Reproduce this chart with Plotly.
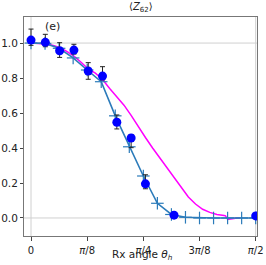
import math
import plotly.graph_objects as go

# Experimental data
exp_theta = [0.0, 0.1, 0.2, 0.3, 0.4, 0.5, 0.6, 0.7, 0.8, 1.0, math.pi / 2]
exp_val = [1.017, 1.004, 0.956, 0.960, 0.840, 0.811, 0.547, 0.457, 0.195, 0.016, 0.012]
exp_err_up = [0.063, 0.046, 0.046, 0.033, 0.048, 0.054, 0.042, 0.020, 0.052, 0.012, 0.010]
exp_err_dn = [0.030, 0.025, 0.038, 0.023, 0.047, 0.022, 0.038, 0.055, 0.028, 0.012, 0.010]

# Simulation (blue line with + markers), at k*pi/32
sim_k = list(range(17))
sim_val = [1.0, 0.998, 0.970, 0.915, 0.846, 0.779, 0.584, 0.407, 0.240, 0.084,
           0.020, 0.004, 0.0, 0.0, 0.0, 0.0, 0.0]

# Second model (magenta)
mag_theta = [0.0, 0.05, 0.1, 0.15, 0.2, 0.25, 0.3, 0.35, 0.4, 0.45, 0.5, 0.55, 0.6,
             0.65, 0.7, 0.75, 0.8, 0.85, 0.9, 0.95, 1.0, 1.05, 1.1, 1.15, 1.2, 1.25,
             1.3, 1.35, 1.36, 1.375, 1.4, 1.43, 1.46]
mag_val = [1.0, 0.999, 0.995, 0.987, 0.975, 0.952, 0.925, 0.89, 0.852, 0.828, 0.792,
           0.74, 0.69, 0.645, 0.587, 0.52, 0.46, 0.40, 0.345, 0.29, 0.235, 0.175,
           0.12, 0.08, 0.05, 0.032, 0.02, 0.014, 0.012, -0.008, -0.007, -0.002, 0.0]

tick_vals = [0, math.pi / 8, math.pi / 4, 3 * math.pi / 8, math.pi / 2]
tick_text = ["0", "<i>π</i>/8", "<i>π</i>/4", "3<i>π</i>/8", "<i>π</i>/2"]
y_ticks = [0.0, 0.2, 0.4, 0.6, 0.8, 1.0]
y_text = ["0.0", "0.2", "0.4", "0.6", "0.8", "1.0"]

sim_theta = [k * math.pi / 32 for k in sim_k]

fig = go.Figure()
fig.add_trace(go.Scatter(
    x=mag_theta, y=mag_val, mode="lines",
    line=dict(color="#ff00ff", width=1.5), showlegend=False))
fig.add_trace(go.Scatter(
    x=sim_theta, y=sim_val, mode="lines+markers",
    line=dict(color="#2b7bba", width=1.6),
    marker=dict(symbol="line-ns", size=9, line=dict(color="#2b7bba", width=1.2)),
    showlegend=False))
fig.add_trace(go.Scatter(
    x=sim_theta, y=sim_val, mode="markers",
    marker=dict(symbol="line-ew", size=9, line=dict(color="#2b7bba", width=1.2)),
    showlegend=False))
fig.add_trace(go.Scatter(
    x=exp_theta, y=exp_val, mode="markers",
    marker=dict(color="#0000ff", size=9),
    error_y=dict(type="data", array=exp_err_up, arrayminus=exp_err_dn,
                 color="#222222", thickness=1, width=2.5),
    showlegend=False))

# reference lines
for xv in [0, math.pi / 2]:
    fig.add_shape(type="line", xref="x", yref="paper", x0=xv, x1=xv, y0=0, y1=1,
                  line=dict(color="#d0d0d0", width=1), layer="below")
for yv in [0, 1]:
    fig.add_shape(type="line", xref="paper", yref="y", x0=0, x1=1, y0=yv, y1=yv,
                  line=dict(color="#d0d0d0", width=1), layer="below")

fig.add_annotation(x=0.122, y=0.955, xref="paper", yref="paper", text="(e)",
                   xanchor="center", yanchor="middle",
                   showarrow=False, font=dict(size=11, color="#222"))
fig.add_annotation(x=0.51, y=-0.128, xref="paper", yref="paper",
                   text="Rx angle <i>θ</i><sub><i>h</i></sub>",
                   xanchor="center", yanchor="bottom",
                   showarrow=False, font=dict(size=10.5, color="#222"))
fig.add_annotation(x=0.5, y=1.0, xref="paper", yref="paper",
                   text="⟨<i>Z</i><sub>62</sub>⟩", yshift=1,
                   xanchor="center", yanchor="bottom",
                   showarrow=False, font=dict(size=10, color="#222"))

fig.update_layout(
    width=266, height=265,
    margin=dict(l=24, r=9, t=17, b=29),
    paper_bgcolor="white", plot_bgcolor="white",
    font=dict(family="DejaVu Sans", size=10, color="#222"),
    xaxis=dict(range=[-0.049, 1.580], tickvals=tick_vals, ticktext=tick_text,
               showgrid=False, zeroline=False, showline=True, mirror=True,
               linecolor="#777", linewidth=1, ticks="outside", ticklen=4,
               tickcolor="#444", automargin=False, tickfont=dict(size=10),
               ticklabelstandoff=1),
    yaxis=dict(range=[-0.103, 1.149], tickvals=y_ticks, ticktext=y_text,
               showgrid=False, zeroline=False, showline=True, mirror=True,
               linecolor="#777", linewidth=1, ticks="outside", ticklen=3,
               tickcolor="#444", automargin=False, tickfont=dict(size=10.5)),
)

fig.write_html(
    "out.html",
    config={"displayModeBar": False},
    post_script="document.body.style.margin='0';document.body.style.padding='0';",
)
